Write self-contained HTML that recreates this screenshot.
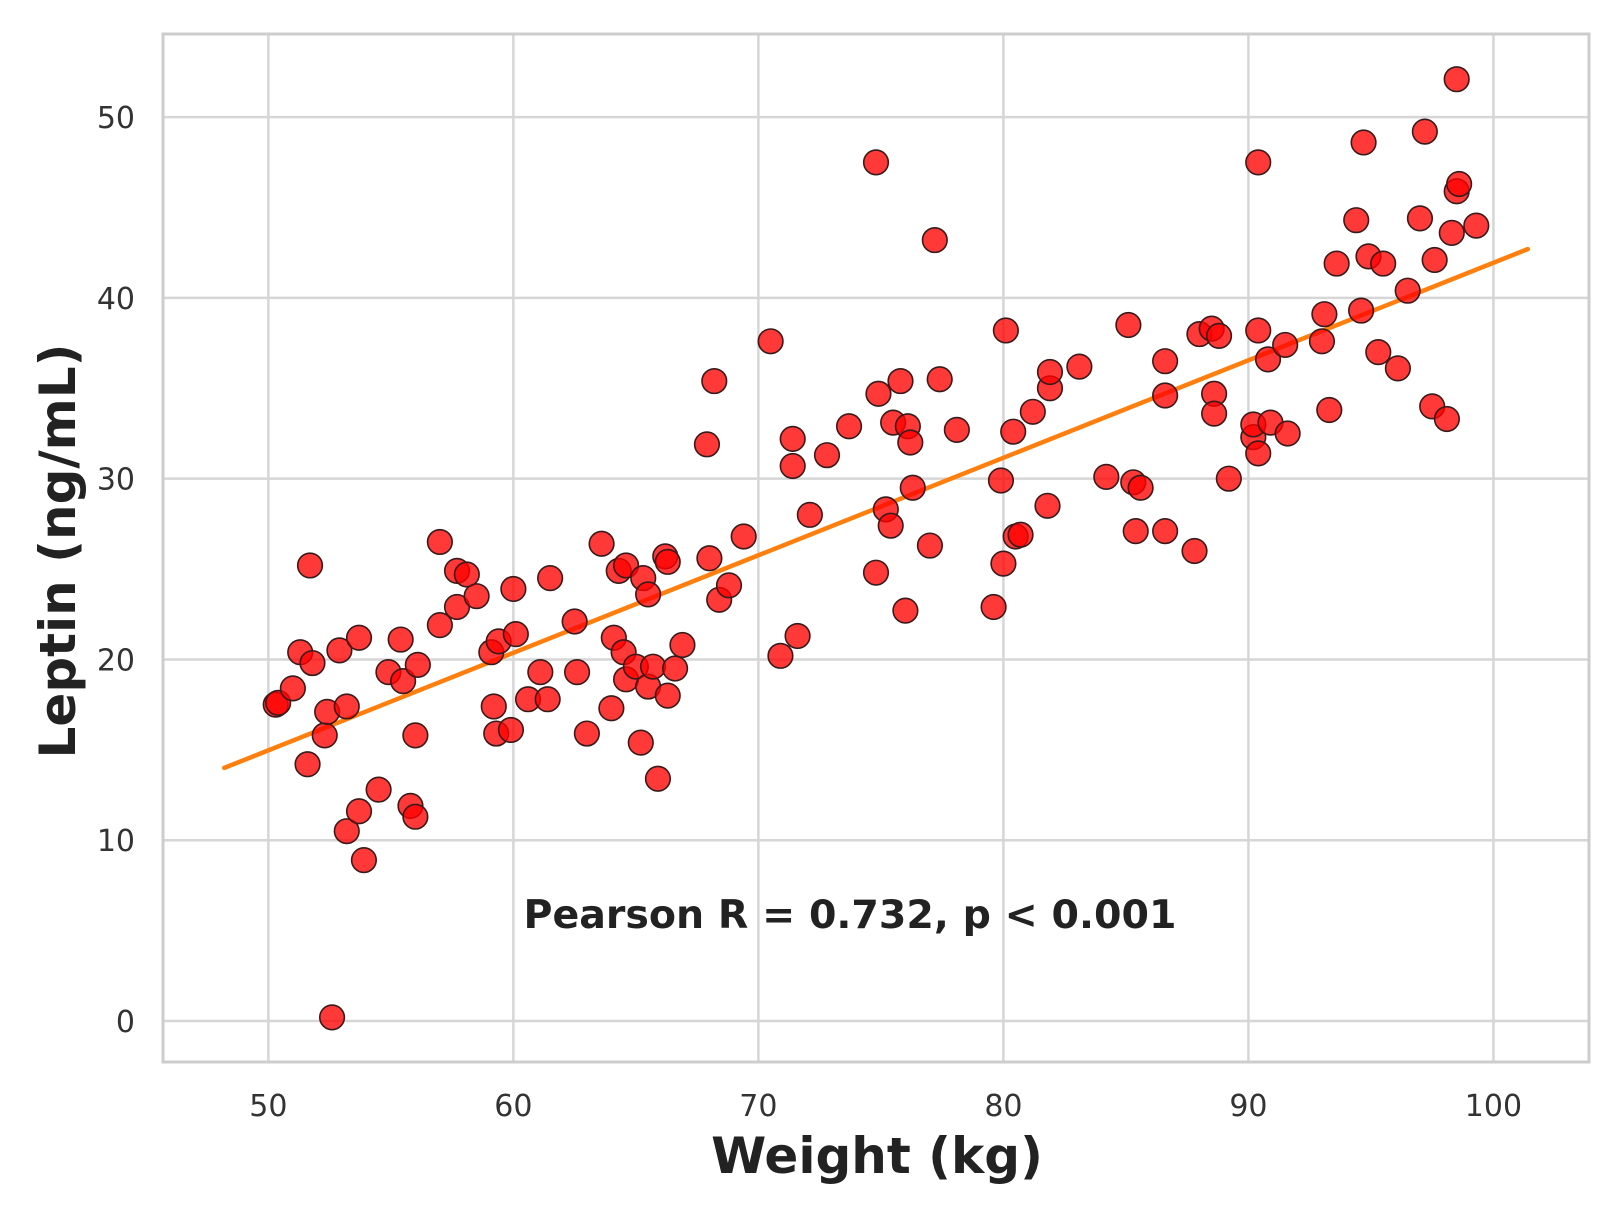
<!DOCTYPE html>
<html><head><meta charset="utf-8"><style>
body{margin:0;background:#fff;}
svg text{font-family:"DejaVu Sans","Liberation Sans",sans-serif;}
</style></head><body>
<svg id="chart" width="1622" height="1215" viewBox="0 0 1622 1215" xmlns="http://www.w3.org/2000/svg">
<rect x="0" y="0" width="1622" height="1215" fill="#fff"/>
<g id="grid"></g>
<g id="ticks"></g>
<g id="line"></g>
<g id="points"></g>
<rect x="163" y="34" width="1426" height="1028" fill="none" stroke="#cdcdcd" stroke-width="3"/>
<text x="850" y="928" font-size="39.5" font-weight="bold" fill="#222" text-anchor="middle">Pearson R = 0.732, p &lt; 0.001</text>
<text x="877" y="1173" font-size="50" font-weight="bold" fill="#222" text-anchor="middle">Weight (kg)</text>
<text x="0" y="0" font-size="50" font-weight="bold" fill="#222" text-anchor="middle" transform="translate(75,551) rotate(-90)">Leptin (ng/mL)</text>
</svg>
<script>
const xTicks=[50,60,70,80,90,100];
const yTicks=[0,10,20,30,40,50];
const weights=[50.3,50.4,51,51.3,51.6,51.7,51.8,52.3,52.4,52.6,52.9,53.2,53.2,53.7,53.7,53.9,54.5,54.9,55.4,55.5,55.8,56,56,56.1,57,57,57.7,57.7,58.1,58.5,59.1,59.2,59.3,59.4,59.9,60,60.1,60.6,61.1,61.4,61.5,62.5,62.6,63,63.6,64,64.1,64.3,64.5,64.6,64.6,65,65.2,65.3,65.5,65.5,65.7,65.9,66.2,66.3,66.3,66.6,66.9,67.9,68,68.2,68.4,68.8,69.4,70.5,70.9,71.4,71.4,71.6,72.1,72.8,73.7,74.8,74.8,74.9,75.2,75.4,75.5,75.8,76,76.1,76.2,76.3,77,77.2,77.4,78.1,79.6,79.9,80,80.1,80.4,80.5,80.7,81.2,81.8,81.9,81.9,83.1,84.2,85.1,85.3,85.4,85.6,86.6,86.6,86.6,87.8,88,88.5,88.6,88.6,88.8,89.2,90.2,90.2,90.4,90.4,90.4,90.8,90.9,91.5,91.6,93,93.1,93.3,93.6,94.4,94.6,94.7,94.9,95.3,95.5,96.1,96.5,97,97.2,97.5,97.6,98.1,98.3,98.5,98.5,98.6,99.3];
const leptin=[17.5,17.6,18.4,20.4,14.2,25.2,19.8,15.8,17.1,0.2,20.5,17.4,10.5,21.2,11.6,8.9,12.8,19.3,21.1,18.8,11.9,15.8,11.3,19.7,26.5,21.9,22.9,24.9,24.7,23.5,20.4,17.4,15.9,21,16.1,23.9,21.4,17.8,19.3,17.8,24.5,22.1,19.3,15.9,26.4,17.3,21.2,24.9,20.4,25.2,18.9,19.6,15.4,24.5,23.6,18.5,19.6,13.4,25.7,25.4,18,19.5,20.8,31.9,25.6,35.4,23.3,24.1,26.8,37.6,20.2,32.2,30.7,21.3,28,31.3,32.9,47.5,24.8,34.7,28.3,27.4,33.1,35.4,22.7,32.9,32,29.5,26.3,43.2,35.5,32.7,22.9,29.9,25.3,38.2,32.6,26.8,26.9,33.7,28.5,35,35.9,36.2,30.1,38.5,29.8,27.1,29.5,36.5,34.6,27.1,26,38,38.3,34.7,33.6,37.9,30,32.3,33,31.4,47.5,38.2,36.6,33.1,37.4,32.5,37.6,39.1,33.8,41.9,44.3,39.3,48.6,42.3,37,41.9,36.1,40.4,44.4,49.2,34,42.1,33.3,43.6,45.9,52.1,46.3,44];
const fitX=[48.2,101.4];
const fitY=[14.0,42.7];
const NS='http://www.w3.org/2000/svg';
const X0=163,X1=1589,Y0=1062,Y1=34;
const xMin=45.7,xMax=103.9,yMin=-2.27,yMax=54.6;
function sx(v){return X0+(v-xMin)/(xMax-xMin)*(X1-X0);}
function sy(v){return Y0-(v-yMin)/(yMax-yMin)*(Y0-Y1);}
function mk(t,a,p){const e=document.createElementNS(NS,t);for(const k in a)e.setAttribute(k,a[k]);p.appendChild(e);return e;}
const grid=document.getElementById('grid'),ticks=document.getElementById('ticks');
xTicks.forEach(v=>{
  const l=mk('line',{x1:sx(v),x2:sx(v),y1:Y1,y2:Y0,stroke:'#d6d6d6','stroke-width':2.5},grid);
  
  
  const t=mk('text',{x:sx(v),y:1116,'font-size':30,fill:'#333','text-anchor':'middle'},ticks);
  t.textContent=v;
  
  
});
yTicks.forEach(v=>{
  const l=mk('line',{x1:X0,x2:X1,y1:sy(v),y2:sy(v),stroke:'#d6d6d6','stroke-width':2.5},grid);
  
  
  const t=mk('text',{x:135,y:sy(v)+11,'font-size':30,fill:'#333','text-anchor':'end'},ticks);
  t.textContent=v;
  
  
});
const lg=document.getElementById('line');
const fl=mk('line',{x1:sx(fitX[0]),y1:sy(fitY[0]),x2:sx(fitX[1]),y2:sy(fitY[1]),stroke:'#ff7f0e','stroke-width':4.5,'stroke-linecap':'round'},lg);


const pg=document.getElementById('points');
weights.forEach((w,i)=>{
  const c=mk('circle',{cx:sx(w),cy:sy(leptin[i]),r:12.3,fill:'rgba(255,0,0,0.78)',stroke:'#3a1a1a','stroke-width':1.6},pg);
  
  
});
</script>
</body></html>
